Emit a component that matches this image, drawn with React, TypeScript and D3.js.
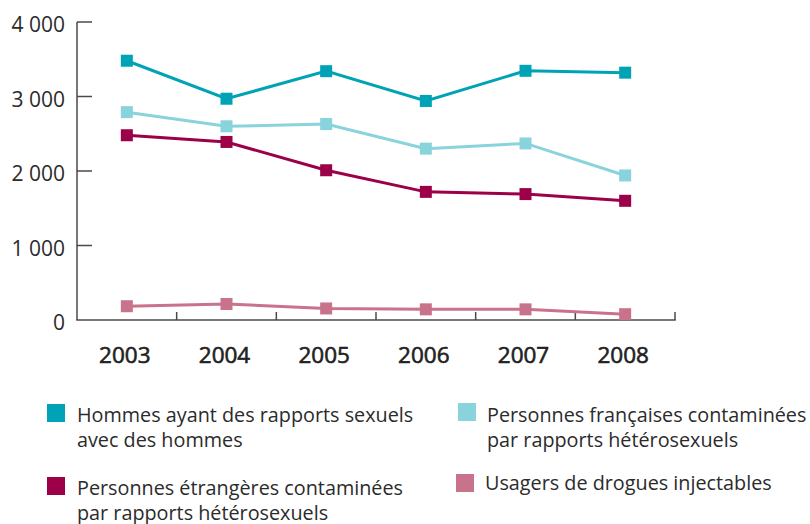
import { useEffect, useRef } from "react";
import * as d3 from "d3";

const years = ["2003", "2004", "2005", "2006", "2007", "2008"];
const yTicks = [0, 1000, 2000, 3000, 4000];

const hshValues = [3480, 2970, 3340, 2940, 3345, 3320];
const francaisValues = [2790, 2600, 2630, 2300, 2370, 1940];
const etrangersValues = [2480, 2390, 2010, 1720, 1690, 1600];
const udiValues = [185, 215, 155, 143, 143, 78];

const seriesNames = [
  ["Hommes ayant des rapports sexuels", "avec des hommes"],
  ["Personnes françaises contaminées", "par rapports hétérosexuels"],
  ["Personnes étrangères contaminées", "par rapports hétérosexuels"],
  ["Usagers de drogues injectables"],
];
const seriesColors = ["#00a3b5", "#88d3dc", "#9b0048", "#c9728b"];

const FONT = "'Open Sans', 'Noto Sans', sans-serif";

export default function App() {
  const svgRef = useRef<SVGSVGElement>(null);

  useEffect(() => {
    if (!svgRef.current) return;
    d3.select(svgRef.current).selectAll("*").remove();

    const svg = d3.select(svgRef.current);
    const axisColor = "#4a4a4a";

    const x = d3.scaleBand<string>().domain(years).range([77, 675]);
    const y = d3.scaleLinear().domain([0, 4000]).range([320, 22]);
    const cx = (d: string) => (x(d) as number) + x.bandwidth() / 2;

    // y axis
    svg
      .append("line")
      .attr("x1", 77)
      .attr("x2", 77)
      .attr("y1", y(4000))
      .attr("y2", y(0))
      .attr("stroke", axisColor)
      .attr("stroke-width", 1.5);

    svg
      .selectAll(".ytick")
      .data(yTicks.filter((t) => t > 0))
      .enter()
      .append("line")
      .attr("x1", 77)
      .attr("x2", 92)
      .attr("y1", (d) => y(d))
      .attr("y2", (d) => y(d))
      .attr("stroke", axisColor)
      .attr("stroke-width", 1.5);

    svg
      .selectAll(".ylabel")
      .data(yTicks)
      .enter()
      .append("text")
      .attr("x", 65)
      .attr("y", (d) => y(d) + 10)
      .attr("text-anchor", "end")
      .style("font-family", FONT)
      .style("font-size", "21px")
      .attr("fill", "#2b2b2b")
      .text((d) => d3.format(",")(d).replace(",", " "));

    // x axis
    svg
      .append("line")
      .attr("x1", 76.25)
      .attr("x2", 675.75)
      .attr("y1", y(0))
      .attr("y2", y(0))
      .attr("stroke", axisColor)
      .attr("stroke-width", 1.5);

    svg
      .selectAll(".xtick")
      .data(years)
      .enter()
      .append("line")
      .attr("x1", (d) => (x(d) as number) + x.bandwidth())
      .attr("x2", (d) => (x(d) as number) + x.bandwidth())
      .attr("y1", y(0))
      .attr("y2", y(0) - 8)
      .attr("stroke", axisColor)
      .attr("stroke-width", 1.5);

    svg
      .selectAll(".xlabel")
      .data(years)
      .enter()
      .append("text")
      .attr("x", (d) => cx(d) - 2)
      .attr("y", 363)
      .attr("text-anchor", "middle")
      .style("font-family", FONT)
      .style("font-size", "22.5px")
      .attr("fill", "#222")
      .attr("stroke", "#222")
      .attr("stroke-width", 0.6)
      .text((d) => d);

    // series
    const allSeries = [hshValues, francaisValues, etrangersValues, udiValues];
    const line = d3
      .line<number>()
      .x((_, i) => cx(years[i]))
      .y((d) => y(d));

    // draw in back-to-front order
    [3, 2, 1, 0].forEach((s) => {
      const g = svg.append("g");
      g.append("path")
        .datum(allSeries[s])
        .attr("d", line)
        .attr("fill", "none")
        .attr("stroke", seriesColors[s])
        .attr("stroke-width", 3);
      g.selectAll("rect")
        .data(allSeries[s])
        .enter()
        .append("rect")
        .attr("x", (_, i) => cx(years[i]) - 6)
        .attr("y", (d) => y(d) - 6)
        .attr("width", 12)
        .attr("height", 12)
        .attr("fill", seriesColors[s]);
    });

    // legend
    const legendPos = [
      { sx: 47, sy: 404, tx: 77, ty: 422 },
      { sx: 458, sy: 403, tx: 487, ty: 422 },
      { sx: 47, sy: 477, tx: 77, ty: 495 },
      { sx: 456, sy: 474, tx: 485, ty: 490 },
    ];
    seriesNames.forEach((lines, i) => {
      const p = legendPos[i];
      svg
        .append("rect")
        .attr("x", p.sx)
        .attr("y", p.sy)
        .attr("width", 18)
        .attr("height", 18)
        .attr("fill", seriesColors[i]);
      const t = svg
        .append("text")
        .attr("x", p.tx)
        .attr("y", p.ty)
        .style("font-family", FONT)
        .style("font-size", "19.8px")
        .attr("fill", "#2b2b2b");
      lines.forEach((l, j) => {
        t.append("tspan")
          .attr("x", p.tx)
          .attr("dy", j === 0 ? 0 : 24.5)
          .text(l);
      });
    });
  }, []);

  return (
    <svg
      ref={svgRef}
      width={810}
      height={524}
      style={{ position: "absolute", left: 0, top: 0, background: "#fff" }}
    ></svg>
  );
}
